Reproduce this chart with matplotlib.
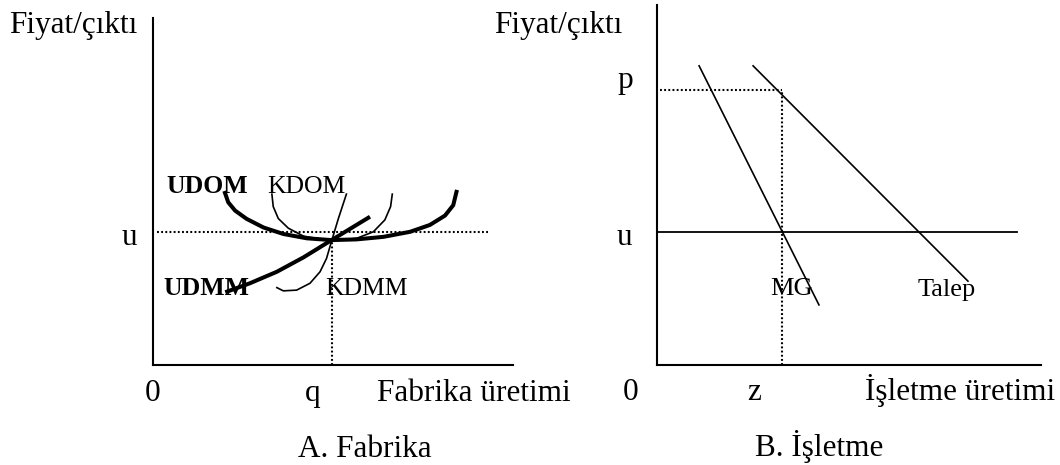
import matplotlib
matplotlib.use("Agg")
import matplotlib.pyplot as plt
import numpy as np

plt.rcParams['font.family'] = ['Liberation Serif', 'DejaVu Serif']

# ---- panel A: Fabrika (diagram units) ----
q_level = 4.96
u_level = 3.69
meet_y = 3.44

udom_x = [2.00, 2.09, 2.28, 2.60, 3.07, 3.62, 4.27, 4.96, 5.66, 6.40, 7.14, 7.69, 8.11, 8.34, 8.43]
udom_y = [4.78, 4.52, 4.29, 4.06, 3.82, 3.64, 3.52, 3.47, 3.49, 3.56, 3.70, 3.89, 4.15, 4.44, 4.81]

udmm_x = [2.06, 2.69, 3.44, 4.18, 4.96, 5.47, 5.98]
udmm_y = [2.04, 2.27, 2.59, 2.99, 3.47, 3.78, 4.09]

kdom_x = [3.30, 3.34, 3.48, 3.76, 4.18, 4.96, 5.66, 6.12, 6.44, 6.60, 6.65]
kdom_y = [4.77, 4.40, 4.07, 3.80, 3.58, 3.45, 3.52, 3.70, 4.03, 4.40, 4.77]

kdmm_x = [3.42, 3.62, 3.99, 4.36, 4.64, 4.82, 4.96, 5.15, 5.38]
kdmm_y = [2.16, 2.06, 2.08, 2.27, 2.59, 2.96, 3.44, 4.07, 4.77]

# ---- panel B: Isletme ----
z_level = 3.47
p_level = 7.64
u_level_b = 3.69
u_line_end = 10.0

mg_x = [1.17, 4.50]
mg_y = [8.31, 1.67]
talep_x = [2.67, 8.64]
talep_y = [8.31, 2.33]

W, H = 1060, 465
fig = plt.figure(figsize=(W / 100, H / 100), dpi=100)

def make_axes(left, bottom, width, height, xmax, ymax):
    ax = fig.add_axes([left / W, bottom / H, width / W, height / H])
    ax.set_xlim(0, xmax)
    ax.set_ylim(0, ymax)
    for s in ['top', 'right']:
        ax.spines[s].set_visible(False)
    for s in ['left', 'bottom']:
        ax.spines[s].set_linewidth(1.5)
    ax.set_xticks([])
    ax.set_yticks([])
    ax.patch.set_visible(False)
    return ax

dots = (0, (0.9, 1.1))
dot_lw = 1.5

axA = make_axes(153, 100, 360, 347, 10.0, 9.64)
axA.plot([0.1, 9.3], [u_level, u_level], color='black', lw=dot_lw, ls=dots)
axA.plot([q_level, q_level], [0, meet_y], color='black', lw=dot_lw, ls=dots)
axA.plot(kdom_x, kdom_y, color='black', lw=1.2, solid_capstyle='butt')
axA.plot(kdmm_x, kdmm_y, color='black', lw=1.2, solid_capstyle='butt')
axA.plot(udom_x, udom_y, color='black', lw=2.9, solid_joinstyle='round')
axA.plot(udmm_x, udmm_y, color='black', lw=2.9, solid_joinstyle='round')

axB = make_axes(657, 100, 384, 360, 10.67, 10.0)
axB.plot([0, u_line_end], [u_level_b, u_level_b], color='black', lw=1.3)
axB.plot([0.08, z_level], [p_level, p_level], color='black', lw=dot_lw, ls=dots)
axB.plot([z_level, z_level], [0, p_level], color='black', lw=dot_lw, ls=dots)
axB.plot(mg_x, mg_y, color='black', lw=1.2)
axB.plot(talep_x, talep_y, color='black', lw=1.2)

def label(x, y, s, size=22.5, weight='normal'):
    fig.text(x / W, 1 - y / H, s, fontsize=size, fontweight=weight,
             ha='left', va='baseline')

label(9, 33, 'Fiyat/çıktı')
label(494, 33, 'Fiyat/çıktı')
label(122, 245, 'u')
label(617, 88, 'p')
label(617, 245, 'u')
label(145, 401, '0')
label(305, 401, 'q')
label(377, 401, 'Fabrika üretimi')
label(298, 457, 'A. Fabrika')
label(623, 400, '0')
label(747, 400, 'z')
label(865, 400, 'İşletme üretimi')
label(755, 456, 'B. İşletme')

label(166, 193, 'UDOM', size=18.5, weight='bold')
label(267, 193, 'KDOM', size=18.5)
label(163, 295, 'UDMM', size=18.5, weight='bold')
label(325, 295, 'KDMM', size=18.5)
label(770, 295, 'MG', size=19)
label(918, 296, 'Talep', size=19)

fig.savefig('out.png', dpi=100)
